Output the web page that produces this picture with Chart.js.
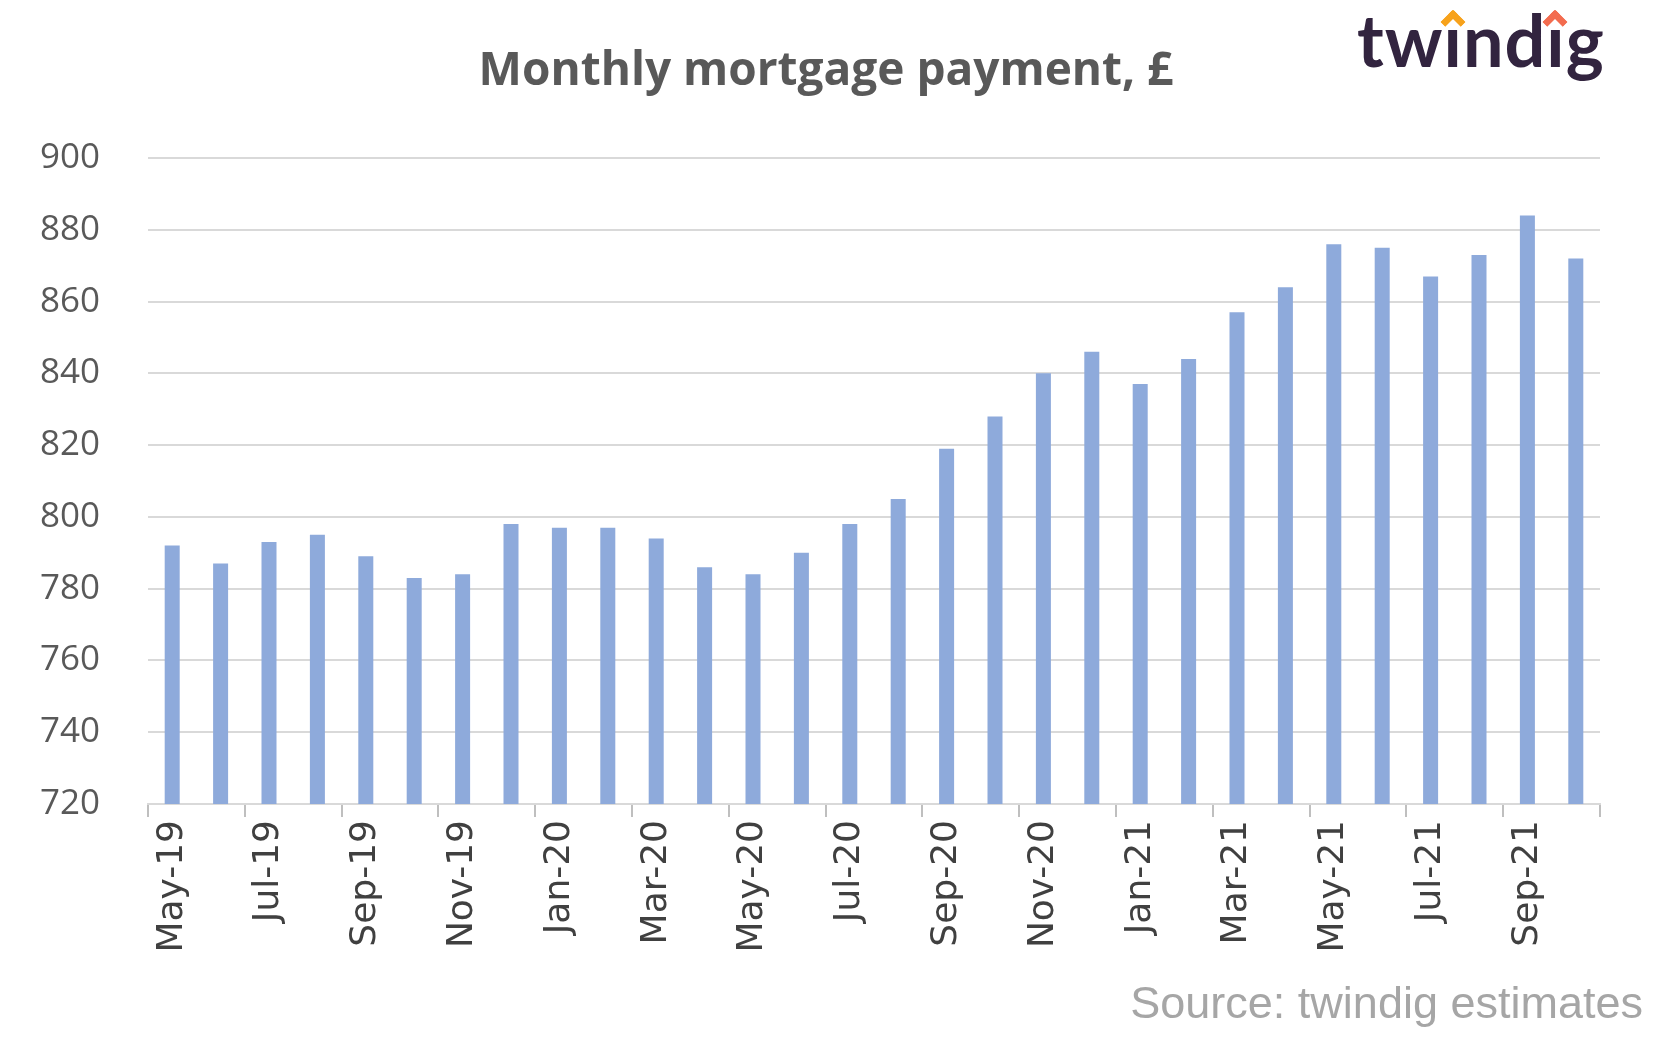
<!DOCTYPE html>
<html>
<head>
<meta charset="utf-8">
<script src="https://cdn.jsdelivr.net/npm/chart.js@4.4.1/dist/chart.umd.min.js"></script>
<style>
  html, body { margin: 0; padding: 0; background: #fff; }
  #wrap { position: relative; width: 1679px; height: 1059px; overflow: hidden; }
  #chart { position: absolute; left: 0; top: 0; }
  .title {
    position: absolute; left: 826px; top: 44px; transform: translateX(-50%);
    font: bold 46px/46px "Open Sans", sans-serif; color: #595959; white-space: nowrap;
  }
  .logo {
    position: absolute; left: 1357px; top: 3px;
    font: bold 72px/72px Lato, sans-serif; color: #32243f; letter-spacing: 1px; white-space: nowrap;
  }
  .logo .hat { position: relative; }
  .logo .hat::before {
    content: ''; position: absolute; left: 0; right: 1px; top: 4px; height: 29px; background: #fff;
  }
  .logo .hat::after {
    content: ''; position: absolute; left: calc(50% - 0.5px); top: 17px; width: 11px; height: 11px;
    border-top: 7px solid var(--c); border-left: 7px solid var(--c);
    transform: translateX(-50%) rotate(45deg); border-radius: 3px 0 0 0;
  }
  .source {
    position: absolute; right: 36px; top: 980px;
    font: 45px/45px "Liberation Sans", Arial, sans-serif; color: #a6a6a6; white-space: nowrap;
  }
</style>
</head>
<body>
<div id="wrap">
  <canvas id="chart" width="1679" height="1059"></canvas>
  <div class="title">Monthly mortgage payment, £</div>
  <div class="logo">tw<span class="hat" style="--c:#f7a21b">i</span>nd<span class="hat" style="--c:#f36c4f">i</span>g</div>
  <div class="source">Source: twindig estimates</div>
</div>
<script>
// months May-19 .. Oct-21
const months = ['May-19','Jun-19','Jul-19','Aug-19','Sep-19','Oct-19','Nov-19','Dec-19',
    'Jan-20','Feb-20','Mar-20','Apr-20','May-20','Jun-20','Jul-20','Aug-20','Sep-20','Oct-20','Nov-20','Dec-20',
    'Jan-21','Feb-21','Mar-21','Apr-21','May-21','Jun-21','Jul-21','Aug-21','Sep-21','Oct-21'];

// monthly mortgage payment, £
const payment = [792, 787, 793, 795, 789, 783, 784, 798,
    797, 797, 794, 786, 784, 790, 798, 805, 819, 828, 840, 846,
    837, 844, 857, 864, 876, 875, 867, 873, 884, 872];

const yMin = 720, yMax = 900, yStep = 20;

new Chart(document.getElementById('chart'), {
    type: 'bar',
    data: {
        labels: months,
        datasets: [{
            data: payment,
            backgroundColor: '#8eaadb',
            borderWidth: 0,
            barPercentage: 0.31,
            categoryPercentage: 1
        }]
    },
    options: {
        responsive: false,
        devicePixelRatio: 1,
        animation: false,
        layout: { padding: { left: 0, top: 158, right: 79, bottom: 0 } },
        plugins: { legend: { display: false }, tooltip: { enabled: false } },
        scales: {
            x: {
                offset: true,
                afterFit: function(scale) { scale.height = 255; },
                grid: {
                    offset: true,
                    drawOnChartArea: false,
                    drawTicks: true,
                    tickLength: 13,
                    lineWidth: 2,
                    color: function(c) { return (c.index === undefined || c.index % 2 === 0) ? '#bfbfbf' : 'rgba(0,0,0,0)'; }
                },
                border: { display: true, color: '#d9d9d9', width: 2 },
                ticks: {
                    autoSkip: false,
                    maxRotation: 90, minRotation: 90,
                    padding: 3,
                    color: '#404040',
                    font: { family: "'DejaVu Sans', sans-serif", size: 36 },
                    callback: function(v, i) { return i % 2 === 0 ? months[i] : ''; }
                }
            },
            y: {
                min: yMin, max: yMax,
                afterFit: function(scale) { scale.width = 148; },
                grid: { color: '#d9d9d9', lineWidth: 2, drawTicks: false },
                border: { display: false },
                ticks: {
                    stepSize: yStep,
                    padding: 48,
                    color: '#595959',
                    font: { family: "'Open Sans', sans-serif", size: 35 }
                }
            }
        }
    }
});
</script>
</body>
</html>
